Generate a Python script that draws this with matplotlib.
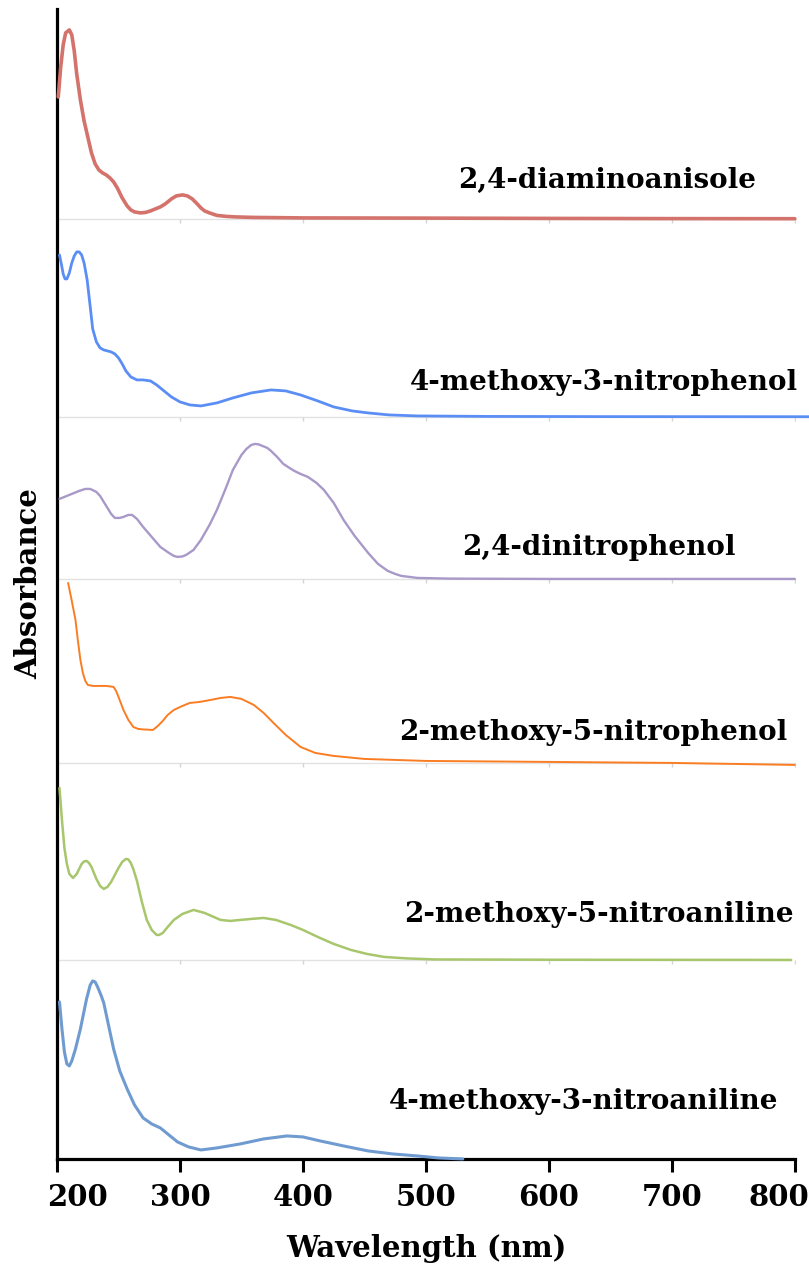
"""UV-Vis spectra of the six anisole derivatives, stacked with a common wavelength axis.

Writes out.png.
"""

import matplotlib

matplotlib.use("Agg")
import matplotlib.pyplot as plt  # noqa: E402
from matplotlib.transforms import ScaledTranslation  # noqa: E402

# 2,4-diaminoanisole
WL_DAA = [201, 203, 205, 207, 210, 212, 214, 216, 219, 222, 225, 228, 231, 234, 237, 240,
          243, 246, 249, 253, 257, 260, 263, 268, 272, 276, 280, 284, 288, 293, 297, 302,
          306, 310, 314, 317, 320, 324, 330, 338, 345, 360, 400, 500, 600, 700, 800]
ABS_DAA = [1.22, 1.52, 1.74, 1.86, 1.89, 1.84, 1.68, 1.45, 1.19, 0.98, 0.82, 0.66, 0.55,
           0.49, 0.46, 0.44, 0.41, 0.37, 0.31, 0.21, 0.13, 0.09, 0.07, 0.06, 0.065, 0.08,
           0.10, 0.12, 0.15, 0.20, 0.23, 0.24, 0.23, 0.20, 0.15, 0.11, 0.08, 0.06, 0.035,
           0.025, 0.02, 0.015, 0.01, 0.008, 0.005, 0.003, 0.002]

# 4-methoxy-3-nitrophenol
WL_MNP = [202, 203.5, 205, 206.5, 208, 210, 212, 214, 216, 218, 220, 222, 224.5, 227, 229,
          232, 235, 238, 241, 244, 247, 250, 253, 256, 260, 265, 270, 276, 281, 286, 293,
          300, 308, 317, 330, 343, 358, 374, 386, 398, 412, 425, 440, 453, 470, 493, 550,
          650, 812]
ABS_MNP = [1.62, 1.53, 1.43, 1.38, 1.38, 1.44, 1.54, 1.61, 1.65, 1.65, 1.62, 1.54, 1.37,
           1.10, 0.88, 0.75, 0.69, 0.67, 0.66, 0.65, 0.63, 0.59, 0.53, 0.46, 0.40, 0.37,
           0.37, 0.36, 0.32, 0.27, 0.20, 0.15, 0.12, 0.11, 0.14, 0.19, 0.24, 0.27, 0.26,
           0.22, 0.16, 0.10, 0.06, 0.04, 0.02, 0.01, 0.005, 0.003, 0.002]

# 2,4-dinitrophenol
WL_DNP = [202, 210, 218, 223, 227, 232, 235, 240, 244, 247, 251, 254, 258, 261, 265, 270,
          277, 284, 291, 295, 298, 302, 305, 311, 317, 324, 330, 337, 343, 350, 354, 358,
          361, 364, 367, 371, 374, 379, 384, 389, 393, 398, 404, 411, 417, 425, 433, 442,
          453, 461, 469, 475, 480, 493, 520, 600, 800]
ABS_DNP = [0.80, 0.84, 0.88, 0.90, 0.90, 0.87, 0.83, 0.73, 0.65, 0.61, 0.61, 0.62, 0.64,
           0.64, 0.60, 0.52, 0.42, 0.32, 0.26, 0.23, 0.22, 0.225, 0.24, 0.29, 0.39, 0.54,
           0.69, 0.90, 1.09, 1.24, 1.30, 1.34, 1.35, 1.345, 1.33, 1.31, 1.28, 1.22, 1.15,
           1.11, 1.08, 1.05, 1.02, 0.96, 0.89, 0.76, 0.59, 0.43, 0.26, 0.15, 0.08, 0.05,
           0.03, 0.01, 0.003, 0.0, 0.0]

# 2-methoxy-5-nitrophenol
WL_MNPH = [209, 212, 215, 217, 219, 221, 223, 225, 229, 232, 240, 246, 248, 250, 254,
           258, 262, 266, 270, 278, 282, 286, 290, 295, 302, 308, 316, 325, 333, 341, 350,
           360, 368, 376, 386, 398, 410, 425, 450, 500, 600, 700, 800]
ABS_MNPH = [1.80, 1.62, 1.43, 1.22, 1.03, 0.90, 0.82, 0.78, 0.77, 0.77, 0.77, 0.76, 0.72,
            0.66, 0.53, 0.43, 0.36, 0.34, 0.335, 0.33, 0.37, 0.42, 0.48, 0.53, 0.57, 0.60,
            0.61, 0.63, 0.65, 0.66, 0.64, 0.58, 0.50, 0.40, 0.28, 0.16, 0.10, 0.07, 0.04,
            0.02, 0.01, 0.0, -0.02]

# 2-methoxy-5-nitroaniline
WL_MNA = [202, 204, 206, 208, 210, 213, 216, 220, 222, 224, 226, 228, 232, 235, 238, 241,
          244, 250, 253, 256, 258, 260, 262, 265, 269, 273, 277, 281, 283, 286, 290, 295,
          302, 311, 320, 333, 341, 349, 358, 368, 378, 390, 400, 412, 425, 439, 452, 466,
          485, 507, 600, 797]
ABS_MNA = [1.72, 1.40, 1.12, 0.96, 0.86, 0.82, 0.86, 0.96, 0.985, 0.99, 0.97, 0.93, 0.81,
           0.74, 0.71, 0.73, 0.78, 0.92, 0.98, 1.01, 1.005, 0.97, 0.91, 0.79, 0.58, 0.40,
           0.30, 0.25, 0.25, 0.27, 0.33, 0.40, 0.46, 0.50, 0.47, 0.40, 0.39, 0.40, 0.41,
           0.42, 0.40, 0.35, 0.30, 0.23, 0.16, 0.10, 0.06, 0.03, 0.015, 0.005, 0.002, 0.0]

# 4-methoxy-3-nitroaniline
WL_MNAN = [202, 204, 206, 208, 210, 212, 215, 219, 222, 224, 227, 229, 231, 233, 236, 238,
           242, 246, 251, 257, 263, 270, 277, 284, 291, 298, 307, 317, 330, 349, 368, 387,
           400, 414, 433, 453, 473, 493, 510, 530]
ABS_MNAN = [1.57, 1.30, 1.07, 0.95, 0.93, 0.98, 1.10, 1.30, 1.48, 1.60, 1.74, 1.78, 1.77,
            1.72, 1.63, 1.56, 1.33, 1.10, 0.88, 0.70, 0.54, 0.41, 0.35, 0.31, 0.24, 0.17,
            0.12, 0.09, 0.11, 0.15, 0.20, 0.23, 0.22, 0.18, 0.13, 0.08, 0.05, 0.03, 0.01,
            0.0]

NAMES = ["2,4-diaminoanisole", "4-methoxy-3-nitrophenol", "2,4-dinitrophenol",
         "2-methoxy-5-nitrophenol", "2-methoxy-5-nitroaniline", "4-methoxy-3-nitroaniline"]
SPECTRA = [(WL_DAA, ABS_DAA), (WL_MNP, ABS_MNP), (WL_DNP, ABS_DNP),
           (WL_MNPH, ABS_MNPH), (WL_MNA, ABS_MNA), (WL_MNAN, ABS_MNAN)]
WL_TICKS = [200, 300, 400, 500, 600, 700, 800]

# stacking: vertical offset of each trace, its style and where its name goes
OFFSETS = [9.40, 7.42, 5.80, 3.96, 1.99, 0.0]
COLORS = ["#d4736c", "#5b8ef5", "#a899c9", "#fb7d23", "#a8c66c", "#6f9bd1"]
WIDTHS = [2.6, 2.0, 1.7, 1.4, 1.8, 2.2]
BASE_END = [800, 812, 800, 800, 797, 800]
LABEL_XY = [(647, 9.78), (645, 7.76), (641, 6.11), (636, 4.26), (641, 2.44), (628, 0.57)]

FONT = "DejaVu Serif"


def main() -> None:
    fig = plt.figure(figsize=(8.09, 12.73), dpi=100)
    ax = fig.add_axes([0.0705, 0.0896, 0.912, 0.9034])

    for i, ((wl, ab), off) in enumerate(zip(SPECTRA, OFFSETS)):
        if off > 0:
            ax.plot([200, BASE_END[i]], [off, off], color="#e2e2e2", lw=1.0,
                    zorder=1, clip_on=False)
            ax.plot(WL_TICKS[1:], [off] * (len(WL_TICKS) - 1), ls="none", marker=3,
                    ms=3, mew=1, color="#d4d4d4", zorder=1)
        ax.plot(wl, [off + a for a in ab], color=COLORS[i], lw=WIDTHS[i],
                solid_joinstyle="round", solid_capstyle="round", zorder=3, clip_on=False)
        ax.text(*LABEL_XY[i], NAMES[i], ha="center", va="center", fontsize=20,
                fontweight="bold", family=FONT)

    ax.set_xlim(200, 800)
    ax.set_ylim(0, 11.5)
    ax.set_xticks(WL_TICKS)
    ax.set_yticks([])
    ax.tick_params(axis="x", length=9, width=2.2, pad=8, direction="out")
    labels = ax.get_xticklabels()
    for lab in labels:
        lab.set_fontfamily(FONT)
        lab.set_fontweight("bold")
        lab.set_fontsize(21)
    # end labels are pulled inward so they stay inside the figure
    labels[0].set_transform(labels[0].get_transform()
                            + ScaledTranslation(0.20, 0, fig.dpi_scale_trans))
    labels[-1].set_transform(labels[-1].get_transform()
                             + ScaledTranslation(-0.16, 0, fig.dpi_scale_trans))
    for side in ("top", "right"):
        ax.spines[side].set_visible(False)
    ax.spines["left"].set_linewidth(2.3)
    ax.spines["bottom"].set_linewidth(2.3)

    ax.set_xlabel("Wavelength (nm)", fontsize=21, fontweight="bold", family=FONT,
                  labelpad=16)
    ax.set_ylabel("Absorbance", fontsize=21, fontweight="bold", family=FONT, labelpad=10)

    fig.savefig("out.png", dpi=100)


if __name__ == "__main__":
    main()
